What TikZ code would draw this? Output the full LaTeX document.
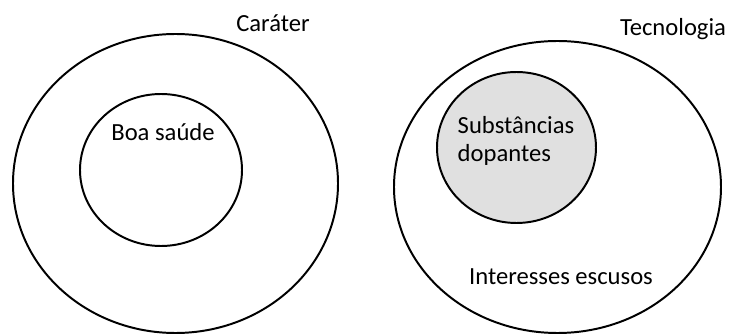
\documentclass[tikz,border=0pt]{standalone}
\usepackage{fontspec}
\setmainfont{Carlito}
\definecolor{dopegray}{RGB}{224,224,224}

\begin{document}
\begin{tikzpicture}[x=0.025cm,y=-0.025cm,line width=1.4pt,font=\fontsize{17.5}{20.5}\selectfont]

\useasboundingbox (0,0) rectangle (732,334);

% left: Carater
\draw (175.5,183.5) ellipse [x radius=162.5, y radius=149.5];
\draw (161,170) ellipse [x radius=81, y radius=76];
\node (carater) at (273,23) {Caráter};
\node (saude) at (163,132) {Boa saúde};

% right: Tecnologia
\draw (557.5,187) ellipse [x radius=163.5, y radius=146];
\draw[fill=dopegray] (516.5,147.5) ellipse [x radius=79.5, y radius=75.5];
\node (tecnologia) at (673,29) {Tecnologia};
\node [align=left] (dopantes) at (516,141) {Substâncias\\dopantes};
\node (escusos) at (561,277) {Interesses escusos};

\end{tikzpicture}
\end{document}
